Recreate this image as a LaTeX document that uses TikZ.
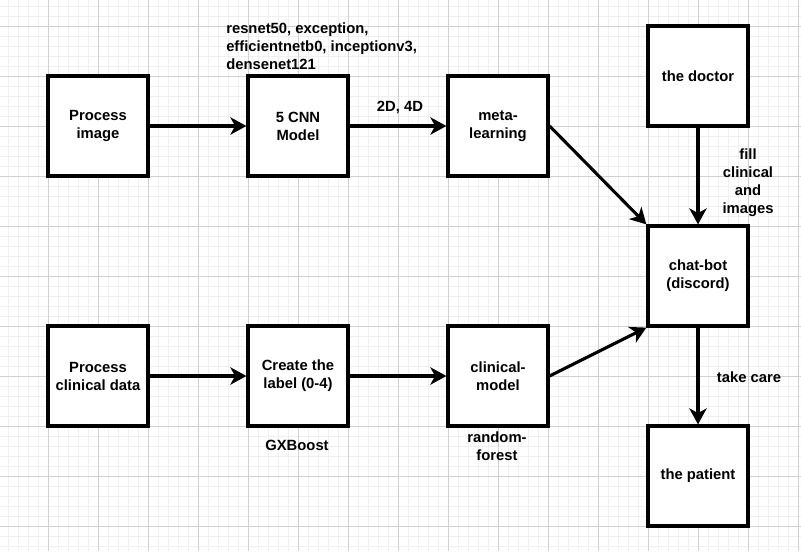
\documentclass[tikz,border=0pt]{standalone}
\usepackage{fontspec}
\setmainfont{Liberation Sans}
\usetikzlibrary{arrows.meta,shadows}
\tikzset{
  boxnode/.style={draw=black, line width=2.4pt, fill=white, minimum width=75pt, minimum height=75pt,
    font=\bfseries\fontsize{11.1}{13.5}\selectfont, align=center, inner sep=2pt,
    drop shadow={shadow xshift=1.8pt, shadow yshift=-1.8pt, fill=black, opacity=0.18}},
  lbl/.style={font=\bfseries\fontsize{11.1}{13.5}\selectfont, align=center, inner sep=0pt},
  arr/.style={line width=2.3pt, -{Stealth[length=12pt, width=13pt, inset=3.5pt]}},
  minorgrid/.style={draw=black!6, line width=0.75pt},
  majorgrid/.style={draw=black!18, line width=0.75pt}
}
\begin{document}
\begin{tikzpicture}[x=0.75pt, y=-0.75pt]
\useasboundingbox (0,0) rectangle (801,551);
\fill[white] (0,0) rectangle (801,551);
\foreach \x in {8,18,...,798} \draw[minorgrid] (\x,0) -- (\x,551);
\foreach \y in {6,16,...,546} \draw[minorgrid] (0,\y) -- (801,\y);
\foreach \x in {48,98,...,798} \draw[majorgrid] (\x,0) -- (\x,551);
\foreach \y in {26,76,...,526} \draw[majorgrid] (0,\y) -- (801,\y);

\node[boxnode] (pimg) at (98,126) {Process\\image};
\node[boxnode] (cnn) at (298,126) {5 CNN\\Model};
\node[boxnode] (meta) at (498,126) {meta-\\learning};
\node[boxnode] (doc) at (698,76) {the doctor};
\node[boxnode] (chat) at (698,276) {chat-bot\\(discord)};
\node[boxnode] (pclin) at (98,376) {Process\\clinical data};
\node[boxnode] (label) at (298,376) {Create the\\label (0-4)};
\node[boxnode] (clin) at (498,376) {clinical-\\model};
\node[boxnode] (pat) at (698,476) {the patient};

\node[lbl, align=left, anchor=west] (cnnlist) at (226,46) {resnet50, exception,\\efficientnetb0, inceptionv3,\\densenet121};
\node[lbl] (dims) at (400,107) {2D, 4D};
\node[lbl] (fill) at (748,183) {fill\\clinical\\and\\images};
\node[lbl] (care) at (749,377) {take care};
\node[lbl] (gx) at (297,445) {GXBoost};
\node[lbl] (rf) at (497,446) {random-\\forest};

\draw[arr] (pimg) -- (cnn);
\draw[arr] (cnn) -- (meta);
\draw[arr] (meta.east) -- (chat.north west);
\draw[arr] (doc) -- (chat);
\draw[arr] (pclin) -- (label);
\draw[arr] (label) -- (clin);
\draw[arr] (clin.east) -- (chat.south west);
\draw[arr] (chat) -- (pat);
\end{tikzpicture}
\end{document}
